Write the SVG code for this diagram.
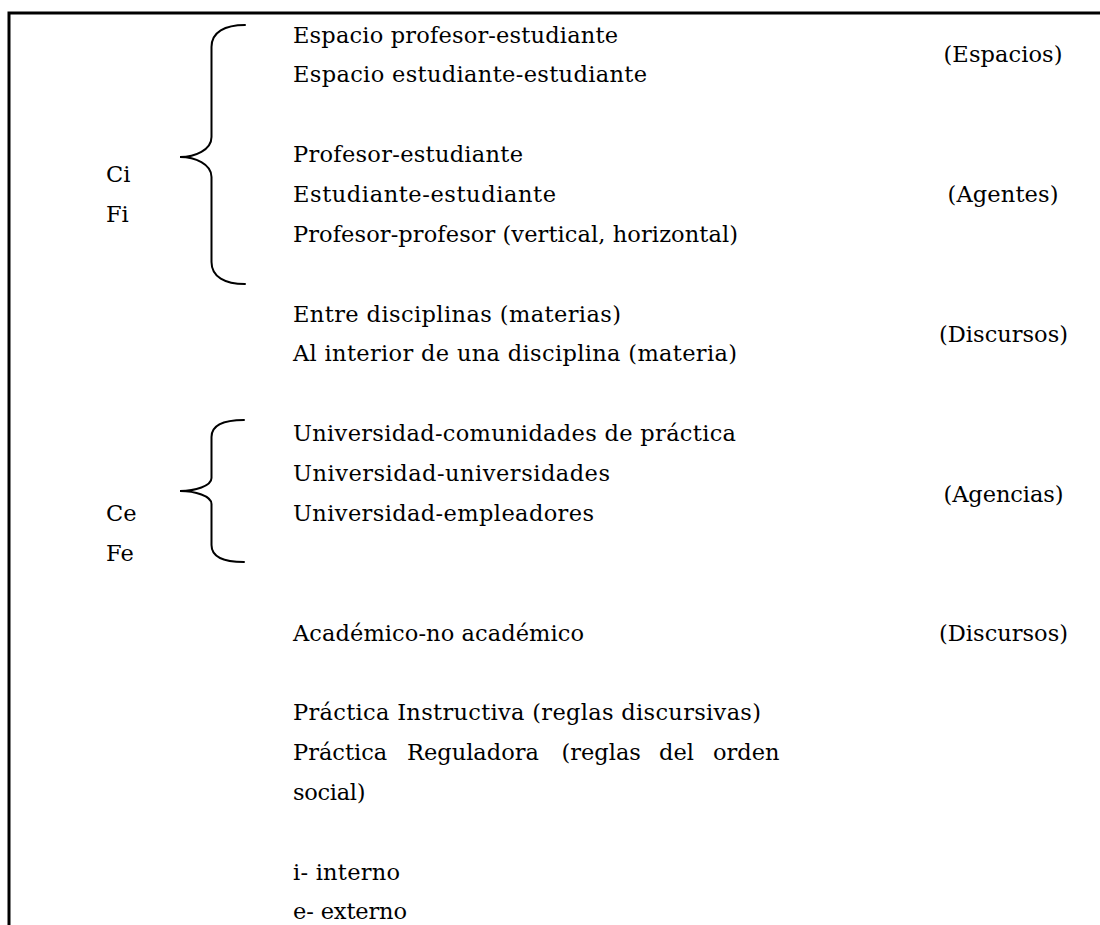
<svg xmlns="http://www.w3.org/2000/svg" width="1100" height="925" viewBox="0 0 1100 925">
  <style>
    text { font-family: "DejaVu Serif", "Liberation Serif", serif; font-size: 22.5px; fill: #000; }
    .mid { text-anchor: middle; }
    .frame { fill: none; stroke: #000; stroke-width: 3; }
    .brace { fill: none; stroke: #000; stroke-width: 2; stroke-linecap: round; }
  </style>
  <rect width="1100" height="925" fill="#fff"/>
  <g id="frame">
    <path class="frame" d="M9,925 L9,13 L1100,13"/>
  </g>
  <g id="connectors">
    <path class="brace" d="M245,25 C225,25 211.5,32 211.5,47 L211.5,137 C211.5,150 195,157 180,157 C195,157 211.5,164 211.5,177 L211.5,262 C211.5,277 225,284 245,284"/>
    <path class="brace" d="M244,420 C225,420 211.5,425 211.5,437 L211.5,478 C211.5,486 195,491 180,491 C195,491 211.5,496 211.5,504 L211.5,545 C211.5,557 225,562 244,562"/>
  </g>
  <g id="labels-internal">
    <text x="106" y="182">Ci</text>
    <text x="106" y="222">Fi</text>
  </g>
  <g id="labels-external">
    <text x="106" y="521">Ce</text>
    <text x="106" y="561">Fe</text>
  </g>
  <g id="espacios">
    <text x="293" y="42.5" textLength="325" lengthAdjust="spacing">Espacio profesor-estudiante</text>
    <text x="293" y="82.3" textLength="354" lengthAdjust="spacing">Espacio estudiante-estudiante</text>
    <text class="mid" x="1003" y="62.4" textLength="119" lengthAdjust="spacing">(Espacios)</text>
  </g>
  <g id="agentes">
    <text x="293" y="161.9" textLength="230" lengthAdjust="spacing">Profesor-estudiante</text>
    <text x="293" y="201.7" textLength="263" lengthAdjust="spacing">Estudiante-estudiante</text>
    <text x="293" y="241.5" textLength="445" lengthAdjust="spacing">Profesor-profesor (vertical, horizontal)</text>
    <text class="mid" x="1003" y="201.7" textLength="111" lengthAdjust="spacing">(Agentes)</text>
  </g>
  <g id="discursos-internos">
    <text x="293" y="321.5" textLength="328" lengthAdjust="spacing">Entre disciplinas (materias)</text>
    <text x="293" y="361" textLength="444" lengthAdjust="spacing">Al interior de una disciplina (materia)</text>
    <text class="mid" x="1003.5" y="341.5" textLength="129" lengthAdjust="spacing">(Discursos)</text>
  </g>
  <g id="agencias">
    <text x="293" y="440.7" textLength="443" lengthAdjust="spacing">Universidad-comunidades de práctica</text>
    <text x="293" y="480.5" textLength="317" lengthAdjust="spacing">Universidad-universidades</text>
    <text x="293" y="521" textLength="301" lengthAdjust="spacing">Universidad-empleadores</text>
    <text class="mid" x="1003.5" y="501.5" textLength="120" lengthAdjust="spacing">(Agencias)</text>
  </g>
  <g id="discursos-externos">
    <text x="293" y="640.5" textLength="291" lengthAdjust="spacing">Académico-no académico</text>
    <text class="mid" x="1003.5" y="640.5" textLength="129" lengthAdjust="spacing">(Discursos)</text>
  </g>
  <g id="practicas">
    <text x="293" y="720" textLength="468" lengthAdjust="spacing">Práctica Instructiva (reglas discursivas)</text>
    <text y="760"><tspan x="293">Práctica</tspan> <tspan x="407">Reguladora</tspan> <tspan x="561.5">(reglas</tspan> <tspan x="659">del</tspan> <tspan x="713">orden</tspan></text>
    <text x="293" y="800" textLength="72.5" lengthAdjust="spacing">social)</text>
  </g>
  <g id="leyenda">
    <text x="293" y="879.5" textLength="107" lengthAdjust="spacing">i- interno</text>
    <text x="293" y="918.5" textLength="114" lengthAdjust="spacing">e- externo</text>
  </g>
</svg>
